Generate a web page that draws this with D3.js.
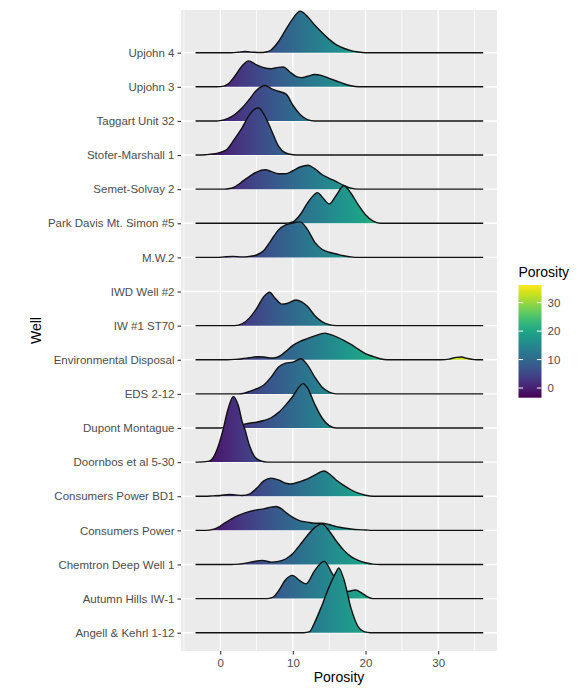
<!DOCTYPE html>
<html>
<head>
<meta charset="utf-8">
<script src="https://cdn.jsdelivr.net/npm/d3@7"></script>
<style>
  html, body { margin: 0; padding: 0; background: #ffffff; }
  svg { display: block; font-family: "Liberation Sans", Arial, sans-serif; }
</style>
</head>
<body>
<svg id="chart" width="584" height="690"></svg>
<script>
// ---------- DATA ----------
// Wells, bottom to top (factor order on the y axis)
const wells = [
  "Angell & Kehrl 1-12", "Autumn Hills IW-1", "Chemtron Deep Well 1", "Consumers Power",
  "Consumers Power BD1", "Doornbos et al 5-30", "Dupont Montague", "EDS 2-12",
  "Environmental Disposal", "IW #1 ST70", "IWD Well #2", "M.W.2",
  "Park Davis Mt. Simon #5", "Semet-Solvay 2", "Stofer-Marshall 1", "Taggart Unit 32",
  "Upjohn 3", "Upjohn 4"
];

// Range of porosity over which densities were estimated (flat baselines span this)
const porosityRange = [-3.4, 36.2];
const xTicks = [0, 10, 20, 30];
const xMinorTicks = [-5, 5, 15, 25, 35];
const legendTicks = [0, 10, 20, 30];

// Ridge heights: [porosity, scaled density] (1 = one row spacing)
const angellKehrl = [[11.5,0],[12.3,0.03],[13,0.3],[14,0.8],[15,1.35],[16,1.8],[16.3,1.9],[17,1.58],[18,0.72],[19,0.17],[19.8,0.03],[20.7,0]];
const autumnHills = [[6.5,0],[7.3,0.04],[8,0.22],[9,0.55],[9.9,0.68],[11,0.52],[11.8,0.43],[13,0.82],[14.3,1.09],[15.5,0.7],[16.5,0.35],[17.5,0.21],[18.6,0.25],[19.5,0.16],[20.3,0.05],[21,0]];
const chemtron = [[1.5,0],[2.5,0.01],[3.5,0.04],[4.5,0.08],[5.8,0.12],[7,0.07],[8,0.09],[9,0.16],[10,0.32],[11,0.58],[12,0.85],[13,1.08],[14,1.19],[15,0.98],[16,0.68],[17,0.42],[18,0.23],[19,0.12],[20,0.05],[21,0.01],[22,0]];
const consumersPower = [[-2,0],[-1,0.03],[-0.3,0.09],[0.5,0.2],[1.5,0.33],[2.5,0.44],[3.5,0.52],[5,0.6],[6,0.63],[7,0.68],[7.7,0.7],[8.5,0.62],[9,0.53],[10,0.38],[11,0.28],[12,0.24],[13,0.21],[14,0.21],[15,0.17],[16,0.11],[17,0.07],[18,0.04],[19,0.02],[20,0.01],[21,0]];
const consumersPowerBD1 = [[-2,0],[-1,0.01],[0,0.02],[1.2,0.05],[2,0.04],[3,0.02],[4,0.06],[5,0.23],[6,0.45],[7,0.53],[8,0.48],[9,0.38],[9.7,0.36],[11,0.43],[12,0.51],[13,0.62],[14.3,0.74],[15,0.66],[16,0.47],[17,0.32],[18,0.19],[19,0.09],[20,0.03],[21,0]];
const doornbos = [[-3,0],[-1.5,0.03],[-1,0.12],[-0.3,0.45],[0.4,0.96],[1,1.5],[1.8,1.92],[2.5,1.65],[3,1.2],[3.4,0.96],[4,0.5],[4.7,0.17],[5.5,0.04],[6.5,0]];
const dupontMontague = [[0,0],[1,0.03],[2,0.07],[3,0.1],[4,0.14],[5,0.17],[6,0.22],[7,0.3],[8,0.45],[9,0.67],[10,0.93],[11,1.24],[11.4,1.3],[12,1.18],[13,0.7],[14,0.3],[15,0.07],[16,0]];
const eds212 = [[2.5,0],[3.3,0.02],[4,0.07],[5,0.15],[6,0.26],[7,0.49],[8,0.78],[9,0.9],[10,0.93],[11.1,1.03],[12,0.85],[13,0.5],[14,0.2],[15,0.05],[16,0]];
const environmentalDisposal = [[1,0],[2,0.01],[3,0.03],[4,0.06],[5.2,0.09],[6,0.08],[7,0.05],[7.6,0.06],[8.3,0.12],[9,0.24],[10,0.42],[11,0.54],[12,0.62],[13,0.7],[14.4,0.78],[15,0.75],[16,0.67],[17,0.57],[18,0.45],[19,0.31],[20,0.18],[21,0.1],[22,0.03],[23,0],[30.5,0],[31.5,0.02],[32.5,0.07],[33.2,0.08],[34,0.04],[35,0.005],[35.6,0]];
const iw1st70 = [[2,0],[3,0.05],[4,0.22],[5,0.5],[6,0.85],[6.8,0.98],[7.5,0.82],[8.5,0.63],[9.2,0.65],[10.4,0.75],[11.2,0.7],[12,0.57],[13,0.3],[14,0.12],[15,0.03],[16,0]];
const iwdWell2 = [];
const mw2 = [[-0.5,0],[0.5,0.015],[1.7,0.03],[3,0.015],[4,0.03],[5,0.07],[6,0.2],[7,0.5],[8,0.8],[9,0.95],[10,1.01],[11,1.04],[12,0.82],[13,0.45],[14,0.24],[15,0.15],[16,0.1],[17,0.05],[18,0.015],[19,0]];
const parkDavis = [[9,0],[10,0.04],[11,0.25],[12,0.59],[13,0.85],[13.4,0.9],[14,0.78],[15,0.57],[16,0.83],[17,1.1],[18,0.88],[19,0.54],[20,0.25],[21,0.07],[22,0]];
const semetSolvay = [[0.5,0],[1.3,0.02],[2,0.07],[2.6,0.15],[3,0.22],[4,0.37],[5,0.5],[6.2,0.57],[7,0.52],[8,0.45],[9,0.45],[10,0.54],[11,0.65],[12.1,0.7],[13,0.6],[14,0.43],[15,0.32],[16,0.22],[17,0.11],[18,0.03],[19,0]];
const stoferMarshall = [[-3,0],[-2,0.01],[-1,0.03],[0,0.08],[1,0.18],[2,0.48],[3,0.8],[4,1.17],[4.7,1.34],[5.3,1.38],[6,1.2],[7,0.75],[8,0.27],[9,0.06],[10,0.01],[11,0]];
const taggart = [[-0.5,0],[0,0.01],[1,0.07],[2,0.19],[3,0.38],[4,0.63],[5,0.9],[6.2,1.04],[7,0.95],[8,0.87],[9.1,0.78],[10,0.46],[11,0.19],[12,0.04],[13,0]];
const upjohn3 = [[-0.5,0],[0.5,0.02],[1,0.07],[2,0.31],[3,0.61],[3.9,0.76],[5,0.64],[6,0.56],[7,0.53],[8,0.57],[8.7,0.58],[9.5,0.45],[10.5,0.3],[11.2,0.27],[12,0.31],[13,0.36],[14,0.33],[15,0.25],[16,0.17],[17,0.09],[18,0.03],[19,0]];
const upjohn4 = [[1.5,0],[2.5,0.015],[3.4,0.035],[4.5,0.015],[5.5,0.005],[6.3,0.02],[7,0.08],[8,0.32],[9,0.67],[10,1.0],[11,1.22],[12,1.06],[13,0.81],[14,0.59],[15,0.39],[16,0.23],[17,0.13],[18,0.06],[19,0.02],[20,0]];

// Table built from the arrays (same order as `wells`)
const ridgeTable = [
  angellKehrl, autumnHills, chemtron, consumersPower, consumersPowerBD1, doornbos,
  dupontMontague, eds212, environmentalDisposal, iw1st70, iwdWell2, mw2,
  parkDavis, semetSolvay, stoferMarshall, taggart, upjohn3, upjohn4
].map((vals, i) => ({ well: wells[i], values: vals }));

// ---------- LAYOUT ----------
const svg = d3.select("#chart");
const panel = { left: 181, right: 497, top: 10, bottom: 651 };

const x = d3.scaleLinear().domain([-5.4, 38.1]).range([panel.left, panel.right]);
const y = d3.scalePoint().domain(wells).range([632.7, 52.7]);
const rowStep = y.step();
const h = d3.scaleLinear().domain([0, 1]).range([0, rowStep]);

const defs = svg.append("defs");
const grad = defs.append("linearGradient")
  .attr("id", "ridgeFill")
  .attr("gradientUnits", "userSpaceOnUse")
  .attr("x1", x(porosityRange[0])).attr("x2", x(porosityRange[1]))
  .attr("y1", 0).attr("y2", 0);
d3.range(0, 1.0001, 0.05).forEach(t => {
  grad.append("stop").attr("offset", t)
    .attr("stop-color", d3.interpolateViridis(t));
});
defs.append("clipPath").attr("id", "panelClip")
  .append("rect")
  .attr("x", panel.left).attr("y", panel.top)
  .attr("width", panel.right - panel.left).attr("height", panel.bottom - panel.top);

// Panel background
svg.append("rect")
  .attr("x", panel.left).attr("y", panel.top)
  .attr("width", panel.right - panel.left).attr("height", panel.bottom - panel.top)
  .attr("fill", "#ebebeb");

// Grid lines
const grid = svg.append("g");
grid.selectAll("line.minor").data(xMinorTicks).join("line")
  .attr("x1", d => x(d)).attr("x2", d => x(d))
  .attr("y1", panel.top).attr("y2", panel.bottom)
  .attr("stroke", "#ffffff").attr("stroke-width", 0.7);
grid.selectAll("line.major").data(xTicks).join("line")
  .attr("x1", d => x(d)).attr("x2", d => x(d))
  .attr("y1", panel.top).attr("y2", panel.bottom)
  .attr("stroke", "#ffffff").attr("stroke-width", 1.4);
grid.selectAll("line.hmajor").data(wells).join("line")
  .attr("x1", panel.left).attr("x2", panel.right)
  .attr("y1", d => y(d)).attr("y2", d => y(d))
  .attr("stroke", "#ffffff").attr("stroke-width", 1.4);

// Ridges: drawn top to bottom so lower rows overlay upper ones
const ridges = svg.append("g").attr("clip-path", "url(#panelClip)");
ridgeTable.slice().reverse().forEach(r => {
  if (!r.values.length) return;
  const base = y(r.well);
  const pts = [[porosityRange[0], 0], ...r.values, [porosityRange[1], 0]];
  const area = d3.area()
    .x(d => x(d[0]))
    .y0(base)
    .y1(d => base - h(d[1]))
    .curve(d3.curveMonotoneX);
  const line = d3.line()
    .x(d => x(d[0]))
    .y(d => base - h(d[1]))
    .curve(d3.curveMonotoneX);
  ridges.append("path").attr("d", area(pts)).attr("fill", "url(#ridgeFill)");
  ridges.append("path").attr("d", line(pts))
    .attr("fill", "none").attr("stroke", "#111111").attr("stroke-width", 1.4)
    .attr("stroke-linejoin", "round");
});

// Axes
const xAxis = svg.append("g")
  .attr("transform", `translate(0,${panel.bottom})`)
  .call(d3.axisBottom(x).tickValues(xTicks).tickSize(3.5).tickPadding(4));
const yAxis = svg.append("g")
  .attr("transform", `translate(${panel.left},0)`)
  .call(d3.axisLeft(y).tickSize(3.5).tickPadding(3));
[xAxis, yAxis].forEach(g => {
  g.select(".domain").remove();
  g.selectAll(".tick line").attr("stroke", "#333333").attr("stroke-width", 1.1);
  g.selectAll(".tick text")
    .attr("fill", "#4d4d4d")
    .style("font-size", "11.5px")
    .style("font-family", "'Liberation Sans', Arial, sans-serif");
});

// Axis titles
svg.append("text")
  .attr("x", (panel.left + panel.right) / 2).attr("y", 682)
  .attr("text-anchor", "middle")
  .style("font-size", "14px").attr("fill", "#000")
  .text("Porosity");
svg.append("text")
  .attr("transform", `translate(40.5,${(panel.top + panel.bottom) / 2}) rotate(-90)`)
  .attr("text-anchor", "middle")
  .style("font-size", "14px").attr("fill", "#000")
  .text("Well");

// Legend (colour bar)
const bar = { x: 518.5, w: 23, top: 285, bottom: 397.7 };
const legendScale = d3.scaleLinear().domain(porosityRange).range([bar.bottom, bar.top]);
const lg = defs.append("linearGradient")
  .attr("id", "legendFill")
  .attr("x1", 0).attr("y1", 1).attr("x2", 0).attr("y2", 0);
d3.range(0, 1.0001, 0.05).forEach(t => {
  lg.append("stop").attr("offset", t).attr("stop-color", d3.interpolateViridis(t));
});
const legend = svg.append("g");
legend.append("text")
  .attr("x", bar.x).attr("y", 277)
  .style("font-size", "14px").attr("fill", "#000")
  .text("Porosity");
legend.append("rect")
  .attr("x", bar.x).attr("y", bar.top)
  .attr("width", bar.w).attr("height", bar.bottom - bar.top)
  .attr("fill", "url(#legendFill)");
const tl = bar.w / 5;
legend.selectAll("line.tl").data(legendTicks).join("line")
  .attr("x1", bar.x).attr("x2", bar.x + tl)
  .attr("y1", d => legendScale(d)).attr("y2", d => legendScale(d))
  .attr("stroke", "#ffffff").attr("stroke-width", 1);
legend.selectAll("line.tr").data(legendTicks).join("line")
  .attr("x1", bar.x + bar.w - tl).attr("x2", bar.x + bar.w)
  .attr("y1", d => legendScale(d)).attr("y2", d => legendScale(d))
  .attr("stroke", "#ffffff").attr("stroke-width", 1);
legend.selectAll("text.lab").data(legendTicks).join("text")
  .attr("x", bar.x + bar.w + 6)
  .attr("y", d => legendScale(d))
  .attr("dy", "0.35em")
  .style("font-size", "11.5px").attr("fill", "#4d4d4d")
  .text(d => d);
</script>
</body>
</html>
